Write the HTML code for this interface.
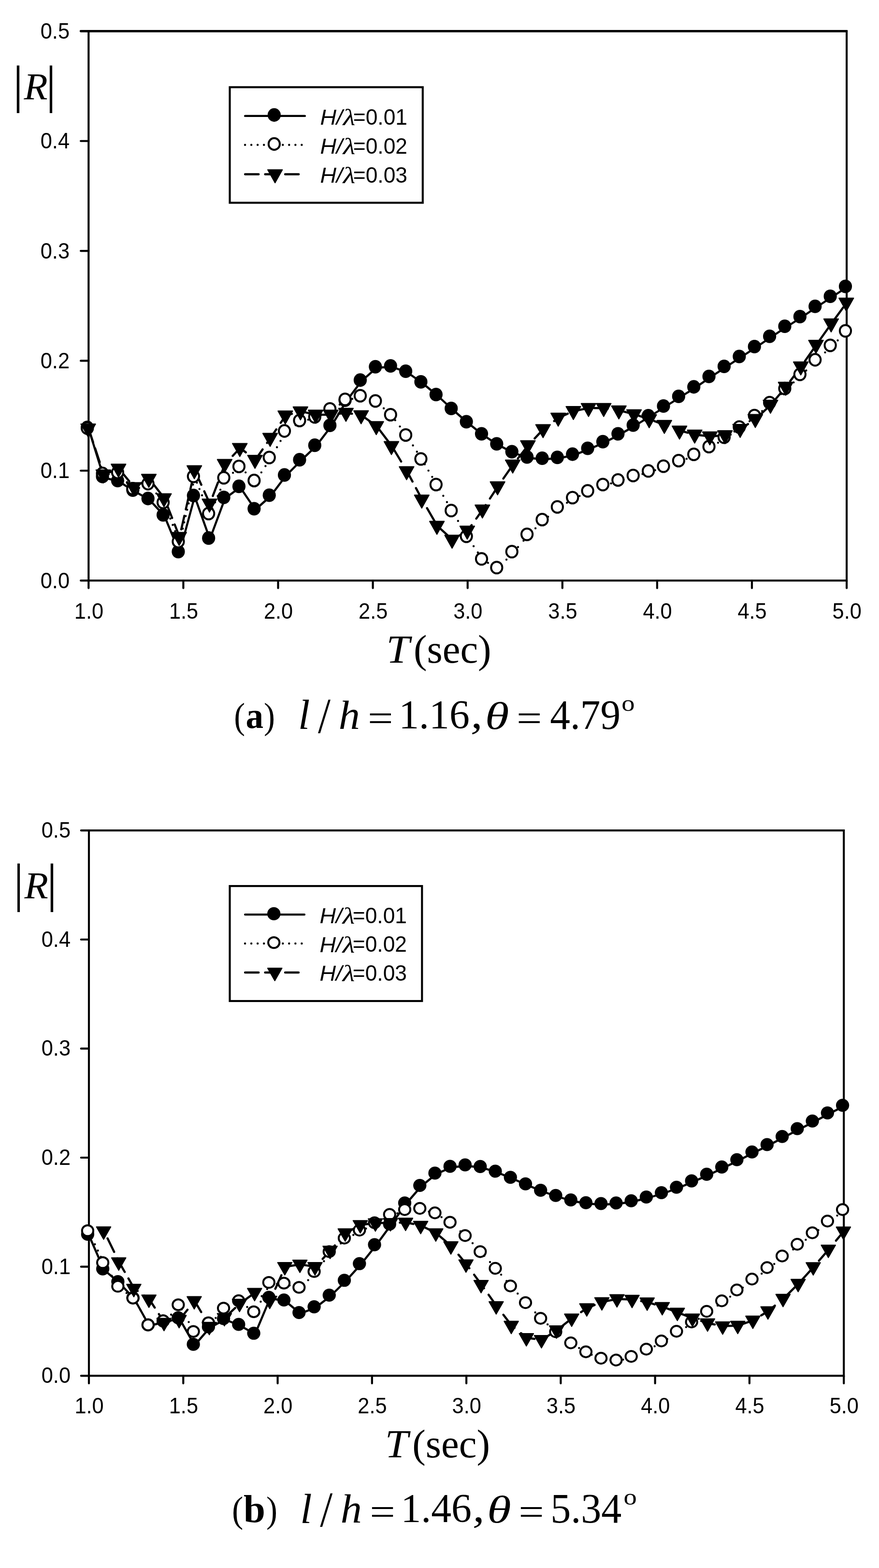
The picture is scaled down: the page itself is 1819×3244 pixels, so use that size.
<!DOCTYPE html>
<html lang="en">
<head>
<meta charset="utf-8">
<title>Reflection coefficient |R| versus wave period T</title>
<style>
html,body{margin:0;padding:0;background:#fff}
body{width:1819px;height:3244px;overflow:hidden}
svg{display:block}
text{fill:#000}
.ax{fill:none;stroke:#000;stroke-width:4.15;stroke-linejoin:miter}
.tk{fill:none;stroke:#000;stroke-width:4.2;stroke-linecap:round}
.tp{fill:none;stroke:#000;stroke-width:4.8;stroke-linecap:round}
.l1{fill:none;stroke:#000;stroke-width:4.4;stroke-linejoin:round;stroke-linecap:round}
.l2{fill:none;stroke:#000;stroke-width:4.4;stroke-linejoin:round;stroke-linecap:round}
.l3{fill:none;stroke:#000;stroke-width:4.5;stroke-linejoin:round;stroke-linecap:round}
.m1{fill:#000;stroke:none}
.m2{fill:#fff;stroke:#000;stroke-width:4}
.m3{fill:#000;stroke:#000;stroke-width:2;stroke-linejoin:round}
.tl{font-family:"Liberation Sans",sans-serif;font-size:44px}
.sans{font-family:"Liberation Sans",sans-serif;font-size:100px}
.sansI{font-family:"Liberation Sans",sans-serif;font-size:100px;font-style:italic}
.serif{font-family:"Liberation Serif",serif;font-size:100px}
.serifI{font-family:"Liberation Serif",serif;font-size:100px;font-style:italic}
.serifB{font-family:"Liberation Serif",serif;font-size:100px;font-weight:bold}
</style>
</head>
<body>
<svg width="1819" height="3244" viewBox="0 0 1819 3244">
<rect x="0" y="0" width="1819" height="3244" fill="#fff"/>

<g id="chart-a">
<rect class="ax" x="183.3" y="64.4" width="1568.8" height="1136.7"/>
<path class="tk" d="M167.1 1201.1H183.3M167.1 973.76H183.3M167.1 746.42H183.3M167.1 519.08H183.3M167.1 291.74H183.3M167.1 64.4H183.3M183.3 1201.1V1216.7M379.4 1201.1V1216.7M575.5 1201.1V1216.7M771.6 1201.1V1216.7M967.7 1201.1V1216.7M1163.8 1201.1V1216.7M1359.9 1201.1V1216.7M1556 1201.1V1216.7M1752.1 1201.1V1216.7"/>
<path class="tp" d="M167.3 64.4H1751.8"/>
<polyline class="l1" points="183.3,886.4 214.68,987.8 246.05,996.2 277.43,1016 308.8,1033.4 340.18,1067.2 371.56,1143.2 402.93,1027.2 434.31,1115.2 465.68,1031 497.06,1008.2 528.44,1054.5 559.81,1026.5 591.19,984.7 622.56,953.2 653.94,923.2 685.32,882 716.69,830 748.07,788.4 779.44,760.75 810.82,759 842.2,770 873.57,792 904.95,818.25 936.32,847 967.7,874.5 999.08,899.5 1030.45,920.25 1061.83,936.5 1093.2,947.5 1124.58,950 1155.96,948.25 1187.33,941.6 1218.71,929.5 1250.08,915.75 1281.46,899.5 1312.84,881.5 1344.21,862 1375.59,842 1406.96,822 1438.34,802.4 1469.72,780.75 1501.09,760 1532.47,739.5 1563.84,719 1595.22,697.75 1626.6,677 1657.97,657 1689.35,635.75 1720.72,615 1752.1,594.5"/>
<path class="l2" d="M183.3 887.8h0.01M187.65 900.83h0.01M192.01 913.86h0.01M196.36 926.89h0.01M200.72 939.92h0.01M205.07 952.95h0.01M209.42 965.98h0.01M213.78 979.01h0.01M225.02 980.94h0.01M238.05 979.99h0.01M250.74 984.42h0.01M262.91 997.45h0.01M275.08 1010.48h0.01M287.94 1009.51h0.01M300.97 1005.2h0.01M313 1007.8h0.01M323.51 1020.83h0.01M334.02 1033.86h0.01M342.27 1046.89h0.01M347.32 1059.92h0.01M352.38 1072.95h0.01M357.43 1085.98h0.01M362.48 1099.01h0.01M367.54 1112.04h0.01M372.18 1119.73h0.01M375.21 1106.7h0.01M378.24 1093.67h0.01M381.27 1080.64h0.01M384.3 1067.61h0.01M387.33 1054.58h0.01M390.36 1041.55h0.01M393.39 1028.52h0.01M396.42 1015.49h0.01M399.45 1002.46h0.01M402.48 989.43h0.01M407.45 998.6h0.01M412.76 1011.63h0.01M418.07 1024.66h0.01M423.38 1037.69h0.01M428.69 1050.72h0.01M434 1063.75h0.01M439.51 1052.22h0.01M445.04 1039.19h0.01M450.56 1026.16h0.01M456.09 1013.13h0.01M461.61 1000.1h0.01M469.11 987.93h0.01M482.14 978.17h0.01M495.17 968.41h0.01M508.2 977.37h0.01M521.23 989.5h0.01M532.27 990.37h0.01M540.84 977.34h0.01M549.41 964.31h0.01M557.98 951.28h0.01M565.67 938.25h0.01M573.11 925.22h0.01M580.56 912.19h0.01M588.01 899.16h0.01M598.65 888.46h0.01M611.68 879.49h0.01M624.71 871.49h0.01M637.74 868.37h0.01M650.77 865.26h0.01M663.8 859.31h0.01M676.83 852.46h0.01M689.86 845.14h0.01M702.89 836.94h0.01M715.92 828.73h0.01M728.95 825.32h0.01M741.98 822.2h0.01M755.01 823.13h0.01M768.04 827.59h0.01M781.07 832.98h0.01M794.1 844.82h0.01M807.13 856.65h0.01M817.8 869.34h0.01M827.53 882.37h0.01M837.27 895.4h0.01M846.27 908.43h0.01M854.53 921.46h0.01M862.79 934.49h0.01M871.05 947.52h0.01M878.93 960.55h0.01M886.65 973.58h0.01M894.36 986.61h0.01M902.07 999.64h0.01M909.72 1012.67h0.01M917.33 1025.7h0.01M924.93 1038.73h0.01M932.54 1051.76h0.01M940.18 1064.79h0.01M947.86 1077.82h0.01M955.53 1090.85h0.01M963.21 1103.88h0.01M971.33 1116.91h0.01M980.08 1129.94h0.01M988.82 1142.97h0.01M997.57 1156h0.01M1009.86 1164.44h0.01M1022.89 1171.91h0.01M1035.65 1170.78h0.01M1048.04 1157.75h0.01M1060.43 1144.72h0.01M1071.97 1131.69h0.01M1083.41 1118.66h0.01M1095.07 1105.68h0.01M1108.1 1093.02h0.01M1121.13 1080.35h0.01M1134.16 1068.98h0.01M1147.19 1058.08h0.01M1160.22 1048.13h0.01M1173.25 1040.14h0.01M1186.28 1032.14h0.01M1199.31 1026.15h0.01M1212.34 1020.34h0.01M1225.37 1014.74h0.01M1238.4 1009.34h0.01M1251.43 1004.09h0.01M1264.46 1000.15h0.01M1277.49 996.2h0.01M1290.52 992.33h0.01M1303.55 988.49h0.01M1316.58 984.62h0.01M1329.61 980.67h0.01M1342.64 976.73h0.01M1355.67 972.69h0.01M1368.7 968.64h0.01M1381.73 964.25h0.01M1394.76 959.47h0.01M1407.79 954.66h0.01M1420.82 949.26h0.01M1433.85 943.86h0.01M1446.88 937.64h0.01M1459.91 931h0.01M1472.94 924h0.01M1485.97 915.9h0.01M1499 907.8h0.01M1512.03 899.18h0.01M1525.06 890.46h0.01M1538.09 881.24h0.01M1551.12 871.38h0.01M1564.15 861.49h0.01M1577.18 850.38h0.01M1590.21 839.27h0.01M1603.24 827.52h0.01M1616.27 815.37h0.01M1629.3 803.23h0.01M1642.33 791.08h0.01M1655.36 778.93h0.01M1668.39 766.5h0.01M1681.42 754h0.01M1694.45 741.54h0.01M1707.48 729.12h0.01M1720.51 716.7h0.01M1733.54 704.24h0.01M1746.57 691.79h0.01"/>
<path class="l3" d="M183.3 886.6L192.55 914.6M196.99 928.05L206.24 956.05M210.68 969.5L214.68 981.6L230.58 975.57M244.03 970.47L246.05 969.7L267.44 995.67M278.75 1007.08L306.75 991.82M317.72 1002.1L339.63 1030.1M345.18 1043.55L356.16 1071.55M361.44 1085L371.56 1110.8L372.06 1108.6M375.12 1095.15L381.49 1067.15M384.55 1053.7L390.92 1025.7M393.98 1012.25L400.35 984.25M403.88 975L416.6 1003M422.71 1016.45L434.31 1042L435.24 1039.55M440.38 1026.1L451.08 998.1M456.22 984.65L465.68 959.9L468.76 956.65M481.51 943.2L497.06 926.8L508.66 935.89M522.11 946.44L528.44 951.4L543.41 929.73M552.71 916.28L559.81 906L571.81 888.28M580.91 874.83L591.19 859.65L604.01 856.18M617.46 852.53L622.56 851.15L645.46 856.08M658.91 857.9L685.32 857.9L686.91 857.71M700.36 856.1L716.69 854.15L728.36 856.01M741.81 858.15L748.07 859.15L769.81 874.74M782.35 885.47L803.64 913.47M813.24 926.92L830.14 954.92M838.25 968.37L842.2 974.9L853.66 996.37M860.84 1009.82L873.57 1033.65L875.98 1037.82M883.76 1051.27L899.95 1079.27M909.76 1092.31L936.32 1116.65L937.76 1115.79M951.21 1107.75L967.7 1097.9L975.96 1086.39M985.6 1072.94L999.08 1054.15L1005.1 1044.94M1013.89 1031.49L1030.45 1006.15L1032.31 1003.49M1041.69 990.04L1061.21 962.04M1071.68 948.59L1093.2 921.15L1093.74 920.59M1106.43 907.14L1124.58 887.9L1133.34 881.27M1146.79 871.09L1155.96 864.15L1174.79 855.89M1188.24 850.22L1216.24 844.64M1229.69 844.15L1250.08 844.15L1257.69 845.36M1271.14 847.51L1281.46 849.15L1299.14 853.66M1312.59 857.09L1312.84 857.15L1340.59 866.22M1354.04 871.08L1375.59 879.15L1382.04 881.57M1395.49 886.6L1406.96 890.9L1423.49 895.25M1436.94 898.78L1438.34 899.15L1464.94 902.33M1478.39 902.21L1501.09 900.4L1506.39 898.2M1519.84 892.63L1532.47 887.4L1547.84 877.35M1561.29 868.57L1563.84 866.9L1589.29 842.97M1601.56 829.88L1625.14 801.88M1635.35 788.43L1656.27 760.43M1665.81 746.98L1685.44 718.98M1694.93 705.53L1714.78 677.53M1724.43 664.08L1744.86 636.08"/>
<g class="m1"><ellipse cx="180.7" cy="884.4" rx="13.6" ry="14.1"/><ellipse cx="212.08" cy="985.8" rx="13.6" ry="14.1"/><ellipse cx="243.45" cy="994.2" rx="13.6" ry="14.1"/><ellipse cx="274.83" cy="1014" rx="13.6" ry="14.1"/><ellipse cx="306.2" cy="1031.4" rx="13.6" ry="14.1"/><ellipse cx="337.58" cy="1065.2" rx="13.6" ry="14.1"/><ellipse cx="368.96" cy="1141.2" rx="13.6" ry="14.1"/><ellipse cx="400.33" cy="1025.2" rx="13.6" ry="14.1"/><ellipse cx="431.71" cy="1113.2" rx="13.6" ry="14.1"/><ellipse cx="463.08" cy="1029" rx="13.6" ry="14.1"/><ellipse cx="494.46" cy="1006.2" rx="13.6" ry="14.1"/><ellipse cx="525.84" cy="1052.5" rx="13.6" ry="14.1"/><ellipse cx="557.21" cy="1024.5" rx="13.6" ry="14.1"/><ellipse cx="588.59" cy="982.7" rx="13.6" ry="14.1"/><ellipse cx="619.96" cy="951.2" rx="13.6" ry="14.1"/><ellipse cx="651.34" cy="921.2" rx="13.6" ry="14.1"/><ellipse cx="682.72" cy="880" rx="13.6" ry="14.1"/><ellipse cx="714.09" cy="828" rx="13.6" ry="14.1"/><ellipse cx="745.47" cy="786.4" rx="13.6" ry="14.1"/><ellipse cx="776.84" cy="758.75" rx="13.6" ry="14.1"/><ellipse cx="808.22" cy="757" rx="13.6" ry="14.1"/><ellipse cx="839.6" cy="768" rx="13.6" ry="14.1"/><ellipse cx="870.97" cy="790" rx="13.6" ry="14.1"/><ellipse cx="902.35" cy="816.25" rx="13.6" ry="14.1"/><ellipse cx="933.72" cy="845" rx="13.6" ry="14.1"/><ellipse cx="965.1" cy="872.5" rx="13.6" ry="14.1"/><ellipse cx="996.48" cy="897.5" rx="13.6" ry="14.1"/><ellipse cx="1027.85" cy="918.25" rx="13.6" ry="14.1"/><ellipse cx="1059.23" cy="934.5" rx="13.6" ry="14.1"/><ellipse cx="1090.6" cy="945.5" rx="13.6" ry="14.1"/><ellipse cx="1121.98" cy="948" rx="13.6" ry="14.1"/><ellipse cx="1153.36" cy="946.25" rx="13.6" ry="14.1"/><ellipse cx="1184.73" cy="939.6" rx="13.6" ry="14.1"/><ellipse cx="1216.11" cy="927.5" rx="13.6" ry="14.1"/><ellipse cx="1247.48" cy="913.75" rx="13.6" ry="14.1"/><ellipse cx="1278.86" cy="897.5" rx="13.6" ry="14.1"/><ellipse cx="1310.24" cy="879.5" rx="13.6" ry="14.1"/><ellipse cx="1341.61" cy="860" rx="13.6" ry="14.1"/><ellipse cx="1372.99" cy="840" rx="13.6" ry="14.1"/><ellipse cx="1404.36" cy="820" rx="13.6" ry="14.1"/><ellipse cx="1435.74" cy="800.4" rx="13.6" ry="14.1"/><ellipse cx="1467.12" cy="778.75" rx="13.6" ry="14.1"/><ellipse cx="1498.49" cy="758" rx="13.6" ry="14.1"/><ellipse cx="1529.87" cy="737.5" rx="13.6" ry="14.1"/><ellipse cx="1561.24" cy="717" rx="13.6" ry="14.1"/><ellipse cx="1592.62" cy="695.75" rx="13.6" ry="14.1"/><ellipse cx="1624" cy="675" rx="13.6" ry="14.1"/><ellipse cx="1655.37" cy="655" rx="13.6" ry="14.1"/><ellipse cx="1686.75" cy="633.75" rx="13.6" ry="14.1"/><ellipse cx="1718.12" cy="613" rx="13.6" ry="14.1"/><ellipse cx="1749.5" cy="592.5" rx="13.6" ry="14.1"/></g>
<g class="m2"><ellipse cx="180.7" cy="885.8" rx="11.6" ry="12.1"/><ellipse cx="212.08" cy="979.7" rx="11.6" ry="12.1"/><ellipse cx="243.45" cy="977.4" rx="11.6" ry="12.1"/><ellipse cx="274.83" cy="1011" rx="11.6" ry="12.1"/><ellipse cx="306.2" cy="1000.6" rx="11.6" ry="12.1"/><ellipse cx="337.58" cy="1039.5" rx="11.6" ry="12.1"/><ellipse cx="368.96" cy="1120.4" rx="11.6" ry="12.1"/><ellipse cx="400.33" cy="985.5" rx="11.6" ry="12.1"/><ellipse cx="431.71" cy="1062.5" rx="11.6" ry="12.1"/><ellipse cx="463.08" cy="988.5" rx="11.6" ry="12.1"/><ellipse cx="494.46" cy="965" rx="11.6" ry="12.1"/><ellipse cx="525.84" cy="994.2" rx="11.6" ry="12.1"/><ellipse cx="557.21" cy="946.5" rx="11.6" ry="12.1"/><ellipse cx="588.59" cy="891.6" rx="11.6" ry="12.1"/><ellipse cx="619.96" cy="870" rx="11.6" ry="12.1"/><ellipse cx="651.34" cy="862.5" rx="11.6" ry="12.1"/><ellipse cx="682.72" cy="846" rx="11.6" ry="12.1"/><ellipse cx="714.09" cy="826.25" rx="11.6" ry="12.1"/><ellipse cx="745.47" cy="818.75" rx="11.6" ry="12.1"/><ellipse cx="776.84" cy="829.5" rx="11.6" ry="12.1"/><ellipse cx="808.22" cy="858" rx="11.6" ry="12.1"/><ellipse cx="839.6" cy="900" rx="11.6" ry="12.1"/><ellipse cx="870.97" cy="949.5" rx="11.6" ry="12.1"/><ellipse cx="902.35" cy="1002.5" rx="11.6" ry="12.1"/><ellipse cx="933.72" cy="1056.25" rx="11.6" ry="12.1"/><ellipse cx="965.1" cy="1109.5" rx="11.6" ry="12.1"/><ellipse cx="996.48" cy="1156.25" rx="11.6" ry="12.1"/><ellipse cx="1027.85" cy="1174.25" rx="11.6" ry="12.1"/><ellipse cx="1059.23" cy="1141.25" rx="11.6" ry="12.1"/><ellipse cx="1090.6" cy="1105.5" rx="11.6" ry="12.1"/><ellipse cx="1121.98" cy="1075" rx="11.6" ry="12.1"/><ellipse cx="1153.36" cy="1048.75" rx="11.6" ry="12.1"/><ellipse cx="1184.73" cy="1029.5" rx="11.6" ry="12.1"/><ellipse cx="1216.11" cy="1015.5" rx="11.6" ry="12.1"/><ellipse cx="1247.48" cy="1002.5" rx="11.6" ry="12.1"/><ellipse cx="1278.86" cy="993" rx="11.6" ry="12.1"/><ellipse cx="1310.24" cy="983.75" rx="11.6" ry="12.1"/><ellipse cx="1341.61" cy="974.25" rx="11.6" ry="12.1"/><ellipse cx="1372.99" cy="964.5" rx="11.6" ry="12.1"/><ellipse cx="1404.36" cy="953" rx="11.6" ry="12.1"/><ellipse cx="1435.74" cy="940" rx="11.6" ry="12.1"/><ellipse cx="1467.12" cy="924" rx="11.6" ry="12.1"/><ellipse cx="1498.49" cy="904.5" rx="11.6" ry="12.1"/><ellipse cx="1529.87" cy="883.5" rx="11.6" ry="12.1"/><ellipse cx="1561.24" cy="859.75" rx="11.6" ry="12.1"/><ellipse cx="1592.62" cy="833" rx="11.6" ry="12.1"/><ellipse cx="1624" cy="803.75" rx="11.6" ry="12.1"/><ellipse cx="1655.37" cy="774.5" rx="11.6" ry="12.1"/><ellipse cx="1686.75" cy="744.4" rx="11.6" ry="12.1"/><ellipse cx="1718.12" cy="714.5" rx="11.6" ry="12.1"/><ellipse cx="1749.5" cy="684.5" rx="11.6" ry="12.1"/></g>
<g class="m3"><path d="M167.35 877.2L197.65 877.2L182.5 904.2Z"/><path d="M198.73 972.2L229.03 972.2L213.88 999.2Z"/><path d="M230.1 960.3L260.4 960.3L245.25 987.3Z"/><path d="M261.48 998.4L291.78 998.4L276.63 1025.4Z"/><path d="M292.85 981.3L323.15 981.3L308 1008.3Z"/><path d="M324.23 1021.4L354.53 1021.4L339.38 1048.4Z"/><path d="M355.61 1101.4L385.91 1101.4L370.76 1128.4Z"/><path d="M386.98 963.5L417.28 963.5L402.13 990.5Z"/><path d="M418.36 1032.6L448.66 1032.6L433.51 1059.6Z"/><path d="M449.73 950.5L480.03 950.5L464.88 977.5Z"/><path d="M481.11 917.4L511.41 917.4L496.26 944.4Z"/><path d="M512.49 942L542.79 942L527.64 969Z"/><path d="M543.86 896.6L574.16 896.6L559.01 923.6Z"/><path d="M575.24 850.25L605.54 850.25L590.39 877.25Z"/><path d="M606.61 841.75L636.91 841.75L621.76 868.75Z"/><path d="M637.99 848.5L668.29 848.5L653.14 875.5Z"/><path d="M669.37 848.5L699.67 848.5L684.52 875.5Z"/><path d="M700.74 844.75L731.04 844.75L715.89 871.75Z"/><path d="M732.12 849.75L762.42 849.75L747.27 876.75Z"/><path d="M763.49 872.25L793.79 872.25L778.64 899.25Z"/><path d="M794.87 913.5L825.17 913.5L810.02 940.5Z"/><path d="M826.25 965.5L856.55 965.5L841.4 992.5Z"/><path d="M857.62 1024.25L887.92 1024.25L872.77 1051.25Z"/><path d="M889 1078.5L919.3 1078.5L904.15 1105.5Z"/><path d="M920.37 1107.25L950.67 1107.25L935.52 1134.25Z"/><path d="M951.75 1088.5L982.05 1088.5L966.9 1115.5Z"/><path d="M983.13 1044.75L1013.43 1044.75L998.28 1071.75Z"/><path d="M1014.5 996.75L1044.8 996.75L1029.65 1023.75Z"/><path d="M1045.88 951.75L1076.18 951.75L1061.03 978.75Z"/><path d="M1077.25 911.75L1107.55 911.75L1092.4 938.75Z"/><path d="M1108.63 878.5L1138.93 878.5L1123.78 905.5Z"/><path d="M1140.01 854.75L1170.31 854.75L1155.16 881.75Z"/><path d="M1171.38 841L1201.68 841L1186.53 868Z"/><path d="M1202.76 834.75L1233.06 834.75L1217.91 861.75Z"/><path d="M1234.13 834.75L1264.43 834.75L1249.28 861.75Z"/><path d="M1265.51 839.75L1295.81 839.75L1280.66 866.75Z"/><path d="M1296.89 847.75L1327.19 847.75L1312.04 874.75Z"/><path d="M1328.26 858L1358.56 858L1343.41 885Z"/><path d="M1359.64 869.75L1389.94 869.75L1374.79 896.75Z"/><path d="M1391.01 881.5L1421.31 881.5L1406.16 908.5Z"/><path d="M1422.39 889.75L1452.69 889.75L1437.54 916.75Z"/><path d="M1453.77 893.5L1484.07 893.5L1468.92 920.5Z"/><path d="M1485.14 891L1515.44 891L1500.29 918Z"/><path d="M1516.52 878L1546.82 878L1531.67 905Z"/><path d="M1547.89 857.5L1578.19 857.5L1563.04 884.5Z"/><path d="M1579.27 828L1609.57 828L1594.42 855Z"/><path d="M1610.65 790.75L1640.95 790.75L1625.8 817.75Z"/><path d="M1642.02 748.75L1672.32 748.75L1657.17 775.75Z"/><path d="M1673.4 704L1703.7 704L1688.55 731Z"/><path d="M1704.77 659.75L1735.07 659.75L1719.92 686.75Z"/><path d="M1736.15 616.75L1766.45 616.75L1751.3 643.75Z"/></g>
<g class="tl" text-anchor="end"><text transform="translate(144 1216.6) scale(0.985 1.03)">0.0</text><text transform="translate(144 989.26) scale(0.985 1.03)">0.1</text><text transform="translate(144 761.92) scale(0.985 1.03)">0.2</text><text transform="translate(144 534.58) scale(0.985 1.03)">0.3</text><text transform="translate(144 307.24) scale(0.985 1.03)">0.4</text><text transform="translate(144 79.9) scale(0.985 1.03)">0.5</text></g><g class="tl" text-anchor="middle"><text transform="translate(183.9 1279.8) scale(0.985 1.03)">1.0</text><text transform="translate(380 1279.8) scale(0.985 1.03)">1.5</text><text transform="translate(576.1 1279.8) scale(0.985 1.03)">2.0</text><text transform="translate(772.2 1279.8) scale(0.985 1.03)">2.5</text><text transform="translate(968.3 1279.8) scale(0.985 1.03)">3.0</text><text transform="translate(1164.4 1279.8) scale(0.985 1.03)">3.5</text><text transform="translate(1360.5 1279.8) scale(0.985 1.03)">4.0</text><text transform="translate(1556.6 1279.8) scale(0.985 1.03)">4.5</text><text transform="translate(1752.7 1279.8) scale(0.985 1.03)">5.0</text></g>
<rect class="ax" x="475.5" y="180.4" width="399.3" height="239.1"/>
<path class="l1" d="M507.2 239.9H630.9"/>
<path class="l2" d="M507.1 299.75h0.01M520.13 299.75h0.01M533.16 299.75h0.01M546.19 299.75h0.01M559.22 299.75h0.01M572.25 299.75h0.01M585.28 299.75h0.01M598.31 299.75h0.01M611.34 299.75h0.01M624.37 299.75h0.01"/>
<path class="l3" d="M507.2 360.6L535.2 360.6M548.65 360.6L576.65 360.6M590.1 360.6L618.1 360.6"/>
<g class="m1"><ellipse cx="567.4" cy="237.9" rx="13.6" ry="14.1"/></g>
<g class="m2"><ellipse cx="567.4" cy="297.9" rx="11.6" ry="12.1"/></g>
<g class="m3"><path d="M554.05 351.2L584.35 351.2L569.2 378.2Z"/></g>
</g>
<g id="chart-b">
<rect class="ax" x="184" y="1718.1" width="1562.2" height="1128.2"/>
<path class="tk" d="M167.8 2846.3H184M167.8 2620.66H184M167.8 2395.02H184M167.8 2169.38H184M167.8 1943.74H184M167.8 1718.1H184M184 2846.3V2861.9M379.27 2846.3V2861.9M574.55 2846.3V2861.9M769.83 2846.3V2861.9M965.1 2846.3V2861.9M1160.38 2846.3V2861.9M1355.65 2846.3V2861.9M1550.92 2846.3V2861.9M1746.2 2846.3V2861.9"/>
<polyline class="l1" points="184,2555.5 215.24,2627.1 246.49,2653.6 277.73,2687 308.98,2743 340.22,2735 371.46,2728.4 402.71,2783.2 433.95,2747 465.2,2730 496.44,2742 527.68,2760.3 558.93,2686 590.17,2691.5 621.42,2717.5 652.66,2705.6 683.9,2681.5 715.15,2650.8 746.39,2616.3 777.64,2577.1 808.88,2534.5 840.12,2490.75 871.37,2454.5 902.61,2429 933.86,2415 965.1,2412 996.34,2415.4 1027.59,2425 1058.83,2437.75 1090.08,2451.25 1121.32,2464.5 1152.56,2475.25 1183.81,2484.5 1215.05,2490.25 1246.3,2492 1277.54,2490.75 1308.78,2486.25 1340.03,2478.5 1371.27,2469.5 1402.52,2458.25 1433.76,2445.1 1465,2431.4 1496.25,2416.4 1527.49,2401.25 1558.74,2385.25 1589.98,2370 1621.22,2353.25 1652.47,2337 1683.71,2321.25 1714.96,2304.5 1746.2,2288.75"/>
<path class="l2" d="M184 2548.2h0.01M190.17 2561.23h0.01M196.34 2574.26h0.01M202.5 2587.29h0.01M208.67 2600.32h0.01M214.84 2613.35h0.01M223.01 2626.38h0.01M231.32 2639.41h0.01M239.63 2652.44h0.01M248.76 2664.97h0.01M261.79 2675.15h0.01M274.82 2685.32h0.01M283.44 2697.72h0.01M290.79 2710.75h0.01M298.13 2723.78h0.01M305.48 2736.81h0.01M315.81 2741.14h0.01M328.84 2737.6h0.01M341.78 2732.85h0.01M354.08 2719.82h0.01M366.38 2706.79h0.01M375.79 2709.04h0.01M383.16 2722.07h0.01M390.54 2735.1h0.01M397.91 2748.13h0.01M407.27 2753.99h0.01M420.3 2746.52h0.01M433.33 2739.06h0.01M446.36 2726.67h0.01M459.39 2714.03h0.01M472.42 2704.84h0.01M485.45 2698.42h0.01M498.48 2694.5h0.01M511.51 2704.05h0.01M524.54 2713.6h0.01M532.77 2706.01h0.01M539.48 2692.98h0.01M546.19 2679.95h0.01M552.89 2666.92h0.01M560.23 2655.26h0.01M573.26 2655.89h0.01M586.29 2656.51h0.01M599.32 2659.25h0.01M612.35 2662.88h0.01M625.21 2661.43h0.01M637.66 2648.4h0.01M650.11 2635.37h0.01M660.51 2622.34h0.01M670.4 2609.31h0.01M680.28 2596.28h0.01M692.15 2584.11h0.01M705.18 2572.43h0.01M718.21 2561.88h0.01M731.24 2555h0.01M744.27 2548.12h0.01M757.3 2541.67h0.01M770.33 2535.32h0.01M783.36 2528.59h0.01M796.39 2521.39h0.01M809.42 2514.33h0.01M822.45 2510.16h0.01M835.48 2505.99h0.01M848.51 2503.83h0.01M861.54 2502.79h0.01M874.57 2502.95h0.01M887.6 2506.81h0.01M900.63 2510.66h0.01M913.66 2518.15h0.01M926.69 2526.28h0.01M939.72 2535.91h0.01M952.75 2547.38h0.01M965.74 2558.93h0.01M977.98 2571.96h0.01M990.23 2584.99h0.01M1002.25 2598.02h0.01M1014.05 2611.05h0.01M1025.85 2624.08h0.01M1037.1 2637.11h0.01M1048.25 2650.14h0.01M1059.44 2663.17h0.01M1071.24 2676.2h0.01M1083.04 2689.23h0.01M1095.13 2702.26h0.01M1107.66 2715.29h0.01M1120.19 2728.32h0.01M1133.17 2740.03h0.01M1146.2 2751.6h0.01M1159.23 2762.16h0.01M1172.26 2771.75h0.01M1185.29 2781.13h0.01M1198.32 2788.84h0.01M1211.35 2796.56h0.01M1224.38 2802.71h0.01M1237.41 2808.23h0.01M1250.44 2812.5h0.01M1263.47 2814.06h0.01M1276.5 2815.63h0.01M1289.53 2812.87h0.01M1302.56 2809.74h0.01M1315.59 2804.98h0.01M1328.62 2798.73h0.01M1341.65 2792.37h0.01M1354.68 2785.28h0.01M1367.71 2778.19h0.01M1380.74 2770.19h0.01M1393.77 2761.85h0.01M1406.8 2753.61h0.01M1419.83 2745.58h0.01M1432.86 2737.55h0.01M1445.89 2728.46h0.01M1458.92 2719.28h0.01M1471.95 2710.16h0.01M1484.98 2701.09h0.01M1498.01 2691.98h0.01M1511.04 2682.6h0.01M1524.07 2673.21h0.01M1537.1 2663.83h0.01M1550.13 2654.45h0.01M1563.16 2644.89h0.01M1576.19 2634.98h0.01M1589.22 2625.08h0.01M1602.25 2615.07h0.01M1615.28 2605.06h0.01M1628.31 2595h0.01M1641.34 2584.89h0.01M1654.37 2574.8h0.01M1667.4 2564.9h0.01M1680.43 2554.99h0.01M1693.46 2544.93h0.01M1706.49 2534.82h0.01M1719.52 2524.78h0.01M1732.55 2514.87h0.01M1745.58 2504.97h0.01"/>
<path class="l3" d="M215.24 2547.05L216 2548.6M222.56 2562.05L236.2 2590.05M242.76 2603.5L246.49 2611.15L258.09 2631.5M265.76 2644.95L277.73 2665.95L284.73 2670.9M298.18 2680.42L308.98 2688.05L320.13 2705.26M328.85 2718.71L340.22 2736.25L350.68 2734.28M364.13 2731.74L371.46 2730.35L388.02 2709.69M398.79 2696.24L402.71 2691.35L416.28 2714.46M424.18 2727.91L433.95 2744.55L445.31 2737.9M458.76 2730.02L465.2 2726.25L486.76 2705.95M500.21 2694.13L527.68 2674.35L528.21 2674.62M541.66 2681.6L558.93 2690.55L563.74 2679.81M569.77 2666.36L582.32 2638.36M588.35 2624.91L590.17 2620.85L614.11 2617.02M627.56 2616.85L652.66 2620.95L655.33 2618.05M667.73 2604.6L683.9 2587.05L692.98 2576.6M704.67 2563.15L715.15 2551.1L731.1 2542.4M744.55 2535.06L746.39 2534.05L772.55 2530.95M786 2530.22L808.88 2529.85L814 2529.73M827.45 2529.4L840.12 2529.1L855.45 2532.29M868.9 2535.09L871.37 2535.6L896.9 2548.26M910.35 2557.72L933.86 2577.85L937.6 2582.34M948.8 2595.79L965.1 2615.35L971.3 2623.79M981.19 2637.24L996.34 2657.85L1001.59 2665.24M1011.14 2678.69L1027.59 2701.85L1031.32 2706.69M1041.7 2720.14L1058.83 2742.35L1064.62 2747.08M1078.07 2758.05L1090.08 2767.85L1106.07 2769.9M1119.52 2771.62L1121.32 2771.85L1147.52 2755.08M1160.97 2745.26L1183.81 2727.35L1188.97 2723.84M1202.42 2714.69L1215.05 2706.1L1230.42 2699.95M1243.87 2694.57L1246.3 2693.6L1271.87 2688.48M1285.32 2687.66L1308.78 2688.6L1313.32 2689.4M1326.77 2691.77L1340.03 2694.1L1354.77 2698.58M1368.22 2702.67L1371.27 2703.6L1396.22 2712.98M1409.67 2718.1L1433.76 2727.35L1437.67 2728.6M1451.12 2732.91L1465 2737.35L1479.12 2740.17M1492.57 2742.86L1496.25 2743.6L1520.57 2742.63M1534.02 2740.1L1558.74 2731.6L1562.02 2729.58M1575.47 2721.29L1589.98 2712.35L1603.47 2701.23M1616.92 2690.15L1621.22 2686.6L1644.92 2663.09M1657.81 2649.7L1683.17 2621.7M1694.79 2608.25L1714.96 2584.85L1718.79 2580.25M1730 2566.8L1746.2 2547.35"/>
<g class="m1"><ellipse cx="181.4" cy="2553.5" rx="13.65" ry="13.55"/><ellipse cx="212.64" cy="2625.1" rx="13.65" ry="13.55"/><ellipse cx="243.89" cy="2651.6" rx="13.65" ry="13.55"/><ellipse cx="275.13" cy="2685" rx="13.65" ry="13.55"/><ellipse cx="306.38" cy="2741" rx="13.65" ry="13.55"/><ellipse cx="337.62" cy="2733" rx="13.65" ry="13.55"/><ellipse cx="368.86" cy="2726.4" rx="13.65" ry="13.55"/><ellipse cx="400.11" cy="2781.2" rx="13.65" ry="13.55"/><ellipse cx="431.35" cy="2745" rx="13.65" ry="13.55"/><ellipse cx="462.6" cy="2728" rx="13.65" ry="13.55"/><ellipse cx="493.84" cy="2740" rx="13.65" ry="13.55"/><ellipse cx="525.08" cy="2758.3" rx="13.65" ry="13.55"/><ellipse cx="556.33" cy="2684" rx="13.65" ry="13.55"/><ellipse cx="587.57" cy="2689.5" rx="13.65" ry="13.55"/><ellipse cx="618.82" cy="2715.5" rx="13.65" ry="13.55"/><ellipse cx="650.06" cy="2703.6" rx="13.65" ry="13.55"/><ellipse cx="681.3" cy="2679.5" rx="13.65" ry="13.55"/><ellipse cx="712.55" cy="2648.8" rx="13.65" ry="13.55"/><ellipse cx="743.79" cy="2614.3" rx="13.65" ry="13.55"/><ellipse cx="775.04" cy="2575.1" rx="13.65" ry="13.55"/><ellipse cx="806.28" cy="2532.5" rx="13.65" ry="13.55"/><ellipse cx="837.52" cy="2488.75" rx="13.65" ry="13.55"/><ellipse cx="868.77" cy="2452.5" rx="13.65" ry="13.55"/><ellipse cx="900.01" cy="2427" rx="13.65" ry="13.55"/><ellipse cx="931.26" cy="2413" rx="13.65" ry="13.55"/><ellipse cx="962.5" cy="2410" rx="13.65" ry="13.55"/><ellipse cx="993.74" cy="2413.4" rx="13.65" ry="13.55"/><ellipse cx="1024.99" cy="2423" rx="13.65" ry="13.55"/><ellipse cx="1056.23" cy="2435.75" rx="13.65" ry="13.55"/><ellipse cx="1087.48" cy="2449.25" rx="13.65" ry="13.55"/><ellipse cx="1118.72" cy="2462.5" rx="13.65" ry="13.55"/><ellipse cx="1149.96" cy="2473.25" rx="13.65" ry="13.55"/><ellipse cx="1181.21" cy="2482.5" rx="13.65" ry="13.55"/><ellipse cx="1212.45" cy="2488.25" rx="13.65" ry="13.55"/><ellipse cx="1243.7" cy="2490" rx="13.65" ry="13.55"/><ellipse cx="1274.94" cy="2488.75" rx="13.65" ry="13.55"/><ellipse cx="1306.18" cy="2484.25" rx="13.65" ry="13.55"/><ellipse cx="1337.43" cy="2476.5" rx="13.65" ry="13.55"/><ellipse cx="1368.67" cy="2467.5" rx="13.65" ry="13.55"/><ellipse cx="1399.92" cy="2456.25" rx="13.65" ry="13.55"/><ellipse cx="1431.16" cy="2443.1" rx="13.65" ry="13.55"/><ellipse cx="1462.4" cy="2429.4" rx="13.65" ry="13.55"/><ellipse cx="1493.65" cy="2414.4" rx="13.65" ry="13.55"/><ellipse cx="1524.89" cy="2399.25" rx="13.65" ry="13.55"/><ellipse cx="1556.14" cy="2383.25" rx="13.65" ry="13.55"/><ellipse cx="1587.38" cy="2368" rx="13.65" ry="13.55"/><ellipse cx="1618.62" cy="2351.25" rx="13.65" ry="13.55"/><ellipse cx="1649.87" cy="2335" rx="13.65" ry="13.55"/><ellipse cx="1681.11" cy="2319.25" rx="13.65" ry="13.55"/><ellipse cx="1712.36" cy="2302.5" rx="13.65" ry="13.55"/><ellipse cx="1743.6" cy="2286.75" rx="13.65" ry="13.55"/></g>
<g class="m2"><ellipse cx="181.4" cy="2546.2" rx="11.65" ry="11.15"/><ellipse cx="212.64" cy="2612.2" rx="11.65" ry="11.15"/><ellipse cx="243.89" cy="2661.2" rx="11.65" ry="11.15"/><ellipse cx="275.13" cy="2685.6" rx="11.65" ry="11.15"/><ellipse cx="306.38" cy="2741" rx="11.65" ry="11.15"/><ellipse cx="337.62" cy="2732.5" rx="11.65" ry="11.15"/><ellipse cx="368.86" cy="2699.4" rx="11.65" ry="11.15"/><ellipse cx="400.11" cy="2754.6" rx="11.65" ry="11.15"/><ellipse cx="431.35" cy="2736.7" rx="11.65" ry="11.15"/><ellipse cx="462.6" cy="2706.4" rx="11.65" ry="11.15"/><ellipse cx="493.84" cy="2691" rx="11.65" ry="11.15"/><ellipse cx="525.08" cy="2713.9" rx="11.65" ry="11.15"/><ellipse cx="556.33" cy="2653.2" rx="11.65" ry="11.15"/><ellipse cx="587.57" cy="2654.7" rx="11.65" ry="11.15"/><ellipse cx="618.82" cy="2663.4" rx="11.65" ry="11.15"/><ellipse cx="650.06" cy="2630.7" rx="11.65" ry="11.15"/><ellipse cx="681.3" cy="2589.5" rx="11.65" ry="11.15"/><ellipse cx="712.55" cy="2561.5" rx="11.65" ry="11.15"/><ellipse cx="743.79" cy="2545" rx="11.65" ry="11.15"/><ellipse cx="775.04" cy="2529.75" rx="11.65" ry="11.15"/><ellipse cx="806.28" cy="2512.5" rx="11.65" ry="11.15"/><ellipse cx="837.52" cy="2502.5" rx="11.65" ry="11.15"/><ellipse cx="868.77" cy="2500" rx="11.65" ry="11.15"/><ellipse cx="900.01" cy="2509.25" rx="11.65" ry="11.15"/><ellipse cx="931.26" cy="2528.75" rx="11.65" ry="11.15"/><ellipse cx="962.5" cy="2556.25" rx="11.65" ry="11.15"/><ellipse cx="993.74" cy="2589.5" rx="11.65" ry="11.15"/><ellipse cx="1024.99" cy="2624" rx="11.65" ry="11.15"/><ellipse cx="1056.23" cy="2660.5" rx="11.65" ry="11.15"/><ellipse cx="1087.48" cy="2695" rx="11.65" ry="11.15"/><ellipse cx="1118.72" cy="2727.5" rx="11.65" ry="11.15"/><ellipse cx="1149.96" cy="2755.25" rx="11.65" ry="11.15"/><ellipse cx="1181.21" cy="2778.25" rx="11.65" ry="11.15"/><ellipse cx="1212.45" cy="2796.75" rx="11.65" ry="11.15"/><ellipse cx="1243.7" cy="2810" rx="11.65" ry="11.15"/><ellipse cx="1274.94" cy="2813.75" rx="11.65" ry="11.15"/><ellipse cx="1306.18" cy="2806.25" rx="11.65" ry="11.15"/><ellipse cx="1337.43" cy="2791.25" rx="11.65" ry="11.15"/><ellipse cx="1368.67" cy="2774.25" rx="11.65" ry="11.15"/><ellipse cx="1399.92" cy="2754.25" rx="11.65" ry="11.15"/><ellipse cx="1431.16" cy="2735" rx="11.65" ry="11.15"/><ellipse cx="1462.4" cy="2713" rx="11.65" ry="11.15"/><ellipse cx="1493.65" cy="2691.25" rx="11.65" ry="11.15"/><ellipse cx="1524.89" cy="2668.75" rx="11.65" ry="11.15"/><ellipse cx="1556.14" cy="2646.25" rx="11.65" ry="11.15"/><ellipse cx="1587.38" cy="2622.5" rx="11.65" ry="11.15"/><ellipse cx="1618.62" cy="2598.5" rx="11.65" ry="11.15"/><ellipse cx="1649.87" cy="2574.25" rx="11.65" ry="11.15"/><ellipse cx="1681.11" cy="2550.5" rx="11.65" ry="11.15"/><ellipse cx="1712.36" cy="2526.25" rx="11.65" ry="11.15"/><ellipse cx="1743.6" cy="2502.5" rx="11.65" ry="11.15"/></g>
<g class="m3"><path d="M199.64 2538.2L229.24 2538.2L214.44 2564Z"/><path d="M230.89 2602.3L260.49 2602.3L245.69 2628.1Z"/><path d="M262.13 2657.1L291.73 2657.1L276.93 2682.9Z"/><path d="M293.38 2679.2L322.98 2679.2L308.18 2705Z"/><path d="M324.62 2727.4L354.22 2727.4L339.42 2753.2Z"/><path d="M355.86 2721.5L385.46 2721.5L370.66 2747.3Z"/><path d="M387.11 2682.5L416.71 2682.5L401.91 2708.3Z"/><path d="M418.35 2735.7L447.95 2735.7L433.15 2761.5Z"/><path d="M449.6 2717.4L479.2 2717.4L464.4 2743.2Z"/><path d="M480.84 2688L510.44 2688L495.64 2713.8Z"/><path d="M512.08 2665.5L541.68 2665.5L526.88 2691.3Z"/><path d="M543.33 2681.7L572.93 2681.7L558.13 2707.5Z"/><path d="M574.57 2612L604.17 2612L589.37 2637.8Z"/><path d="M605.82 2607L635.42 2607L620.62 2632.8Z"/><path d="M637.06 2612.1L666.66 2612.1L651.86 2637.9Z"/><path d="M668.3 2578.2L697.9 2578.2L683.1 2604Z"/><path d="M699.55 2542.25L729.15 2542.25L714.35 2568.05Z"/><path d="M730.79 2525.2L760.39 2525.2L745.59 2551Z"/><path d="M762.04 2521.5L791.64 2521.5L776.84 2547.3Z"/><path d="M793.28 2521L822.88 2521L808.08 2546.8Z"/><path d="M824.52 2520.25L854.12 2520.25L839.32 2546.05Z"/><path d="M855.77 2526.75L885.37 2526.75L870.57 2552.55Z"/><path d="M887.01 2542.25L916.61 2542.25L901.81 2568.05Z"/><path d="M918.26 2569L947.86 2569L933.06 2594.8Z"/><path d="M949.5 2606.5L979.1 2606.5L964.3 2632.3Z"/><path d="M980.74 2649L1010.34 2649L995.54 2674.8Z"/><path d="M1011.99 2693L1041.59 2693L1026.79 2718.8Z"/><path d="M1043.23 2733.5L1072.83 2733.5L1058.03 2759.3Z"/><path d="M1074.48 2759L1104.08 2759L1089.28 2784.8Z"/><path d="M1105.72 2763L1135.32 2763L1120.52 2788.8Z"/><path d="M1136.96 2743L1166.56 2743L1151.76 2768.8Z"/><path d="M1168.21 2718.5L1197.81 2718.5L1183.01 2744.3Z"/><path d="M1199.45 2697.25L1229.05 2697.25L1214.25 2723.05Z"/><path d="M1230.7 2684.75L1260.3 2684.75L1245.5 2710.55Z"/><path d="M1261.94 2678.5L1291.54 2678.5L1276.74 2704.3Z"/><path d="M1293.18 2679.75L1322.78 2679.75L1307.98 2705.55Z"/><path d="M1324.43 2685.25L1354.03 2685.25L1339.23 2711.05Z"/><path d="M1355.67 2694.75L1385.27 2694.75L1370.47 2720.55Z"/><path d="M1386.92 2706.5L1416.52 2706.5L1401.72 2732.3Z"/><path d="M1418.16 2718.5L1447.76 2718.5L1432.96 2744.3Z"/><path d="M1449.4 2728.5L1479 2728.5L1464.2 2754.3Z"/><path d="M1480.65 2734.75L1510.25 2734.75L1495.45 2760.55Z"/><path d="M1511.89 2733.5L1541.49 2733.5L1526.69 2759.3Z"/><path d="M1543.14 2722.75L1572.74 2722.75L1557.94 2748.55Z"/><path d="M1574.38 2703.5L1603.98 2703.5L1589.18 2729.3Z"/><path d="M1605.62 2677.75L1635.22 2677.75L1620.42 2703.55Z"/><path d="M1636.87 2646.75L1666.47 2646.75L1651.67 2672.55Z"/><path d="M1668.11 2612.25L1697.71 2612.25L1682.91 2638.05Z"/><path d="M1699.36 2576L1728.96 2576L1714.16 2601.8Z"/><path d="M1730.6 2538.5L1760.2 2538.5L1745.4 2564.3Z"/></g>
<g class="tl" text-anchor="end"><text transform="translate(146 2861.4) scale(0.985 1.03)">0.0</text><text transform="translate(146 2635.76) scale(0.985 1.03)">0.1</text><text transform="translate(146 2410.12) scale(0.985 1.03)">0.2</text><text transform="translate(146 2184.48) scale(0.985 1.03)">0.3</text><text transform="translate(146 1958.84) scale(0.985 1.03)">0.4</text><text transform="translate(146 1733.2) scale(0.985 1.03)">0.5</text></g><g class="tl" text-anchor="middle"><text transform="translate(184.6 2923.5) scale(0.985 1.03)">1.0</text><text transform="translate(379.88 2923.5) scale(0.985 1.03)">1.5</text><text transform="translate(575.15 2923.5) scale(0.985 1.03)">2.0</text><text transform="translate(770.43 2923.5) scale(0.985 1.03)">2.5</text><text transform="translate(965.7 2923.5) scale(0.985 1.03)">3.0</text><text transform="translate(1160.97 2923.5) scale(0.985 1.03)">3.5</text><text transform="translate(1356.25 2923.5) scale(0.985 1.03)">4.0</text><text transform="translate(1551.52 2923.5) scale(0.985 1.03)">4.5</text><text transform="translate(1746.8 2923.5) scale(0.985 1.03)">5.0</text></g>
<rect class="ax" x="475.5" y="1833.1" width="397.8" height="237.9"/>
<path class="l1" d="M507.2 1892.1H629.9"/>
<path class="l2" d="M507.1 1952h0.01M520.13 1952h0.01M533.16 1952h0.01M546.19 1952h0.01M559.22 1952h0.01M572.25 1952h0.01M585.28 1952h0.01M598.31 1952h0.01M611.34 1952h0.01M624.37 1952h0.01"/>
<path class="l3" d="M507.2 2011.95L535.2 2011.95M548.65 2011.95L576.65 2011.95M590.1 2011.95L617.9 2011.95"/>
<g class="m1"><ellipse cx="566.7" cy="1890.4" rx="13.65" ry="13.55"/></g>
<g class="m2"><ellipse cx="566.7" cy="1950.1" rx="11.65" ry="11.15"/></g>
<g class="m3"><path d="M553.9 2003.1L583.5 2003.1L568.7 2028.9Z"/></g>
</g>
<g class="ytitle"><text class="serif" transform="matrix(1.0684 0 0 1.0886 26.86 210.84)">|</text><text class="serifI" transform="matrix(0.8049 0 0 0.7894 49.48 204.51)">R</text><text class="serif" transform="matrix(1.0482 0 0 1.0886 94.91 210.84)">|</text></g>
<g class="ytitle"><text class="serif" transform="matrix(1.0281 0 0 1.0941 28.26 1863.72)">|</text><text class="serifI" transform="matrix(0.8082 0 0 0.7925 50.38 1857.51)">R</text><text class="serif" transform="matrix(1.0684 0 0 1.0941 96.76 1863.72)">|</text></g>
<g class="xtitle"><text class="serifI" transform="matrix(0.8694 0 0 0.8337 799.49 1371.19)">T</text><text class="serif" transform="matrix(0.8269 0 0 0.8301 855.99 1371.22)">(sec)</text></g>
<g class="xtitle"><text class="serifI" transform="matrix(0.8621 0 0 0.8337 796.84 3015.39)">T</text><text class="serif" transform="matrix(0.8269 0 0 0.8301 853.29 3015.32)">(sec)</text></g>
<g class="caption"><text class="serif" transform="matrix(0.6864 0 0 0.7628 484.25 1506.66)">(</text><text class="serifB" transform="matrix(0.7323 0 0 0.7708 508.5 1506.13)">a</text><text class="serif" transform="matrix(0.6923 0 0 0.7624 545.92 1506.65)">)</text><text class="serifI" transform="matrix(0.8734 0 0 0.8638 616.93 1508.4)">l</text><text class="serif" transform="matrix(0.9357 0 0 1.0453 658 1515.74)">/</text><text class="serifI" transform="matrix(0.8836 0 0 0.8534 700.65 1507.98)">h</text><text class="serif" transform="matrix(0.9316 0 0 0.788 761.06 1512.15)">=</text><text class="serif" transform="matrix(0.8376 0 0 0.8485 825.23 1506.7)">1.16</text><text class="serifI" transform="matrix(0.9937 0 0 0.8661 973.92 1505.56)">,</text><text class="serifI" transform="matrix(1.012 0 0 0.8127 1003.84 1507.59)">θ</text><text class="serif" transform="matrix(0.9295 0 0 0.788 1069.07 1512.15)">=</text><text class="serif" transform="matrix(0.8335 0 0 0.868 1138.27 1507.53)">4.79</text><text class="serif" transform="matrix(0.5458 0 0 0.4854 1286.31 1470.61)">o</text></g>
<g class="caption"><text class="serif" transform="matrix(0.7017 0 0 0.7628 480.09 3148.66)">(</text><text class="serifB" transform="matrix(0.8078 0 0 0.7957 504.09 3148.9)">b</text><text class="serif" transform="matrix(0.6923 0 0 0.7624 550.92 3148.65)">)</text><text class="serifI" transform="matrix(0.8734 0 0 0.8638 621.13 3150.6)">l</text><text class="serif" transform="matrix(0.9357 0 0 1.0453 662.2 3157.94)">/</text><text class="serifI" transform="matrix(0.8836 0 0 0.8534 704.85 3150.18)">h</text><text class="serif" transform="matrix(0.9316 0 0 0.788 765.26 3154.35)">=</text><text class="serif" transform="matrix(0.8376 0 0 0.8485 829.43 3148.9)">1.46</text><text class="serifI" transform="matrix(0.9937 0 0 0.8661 978.12 3147.76)">,</text><text class="serifI" transform="matrix(1.012 0 0 0.8127 1008.04 3149.79)">θ</text><text class="serif" transform="matrix(0.9295 0 0 0.788 1073.27 3154.35)">=</text><text class="serif" transform="matrix(0.8408 0 0 0.868 1139.17 3149.73)">5.34</text><text class="serif" transform="matrix(0.5458 0 0 0.4854 1290.51 3112.81)">o</text></g>
<g class="legtext"><text class="sansI" transform="matrix(0.4649 0 0 0.4436 662.51 258.18)">H/</text><text class="serifI" transform="matrix(0.5907 0 0 0.4886 709.68 259.1)">λ</text><text class="sans" transform="matrix(0.4434 0 0 0.4592 730.83 257.94)">=0.01</text></g>
<g class="legtext"><text class="sansI" transform="matrix(0.4649 0 0 0.4436 662.51 318.18)">H/</text><text class="serifI" transform="matrix(0.5907 0 0 0.4886 709.68 319.1)">λ</text><text class="sans" transform="matrix(0.4434 0 0 0.4592 730.83 317.94)">=0.02</text></g>
<g class="legtext"><text class="sansI" transform="matrix(0.4649 0 0 0.4436 662.51 378.18)">H/</text><text class="serifI" transform="matrix(0.5907 0 0 0.4886 709.68 379.1)">λ</text><text class="sans" transform="matrix(0.4434 0 0 0.4592 730.83 377.94)">=0.03</text></g>
<g class="legtext"><text class="sansI" transform="matrix(0.4649 0 0 0.4436 661.51 1909.88)">H/</text><text class="serifI" transform="matrix(0.5907 0 0 0.4886 708.68 1910.8)">λ</text><text class="sans" transform="matrix(0.4434 0 0 0.4592 729.83 1909.64)">=0.01</text></g>
<g class="legtext"><text class="sansI" transform="matrix(0.4649 0 0 0.4436 661.51 1969.58)">H/</text><text class="serifI" transform="matrix(0.5907 0 0 0.4886 708.68 1970.5)">λ</text><text class="sans" transform="matrix(0.4434 0 0 0.4592 729.83 1969.34)">=0.02</text></g>
<g class="legtext"><text class="sansI" transform="matrix(0.4649 0 0 0.4436 661.51 2029.28)">H/</text><text class="serifI" transform="matrix(0.5907 0 0 0.4886 708.68 2030.2)">λ</text><text class="sans" transform="matrix(0.4434 0 0 0.4592 729.83 2029.04)">=0.03</text></g>
</svg>
</body>
</html>
